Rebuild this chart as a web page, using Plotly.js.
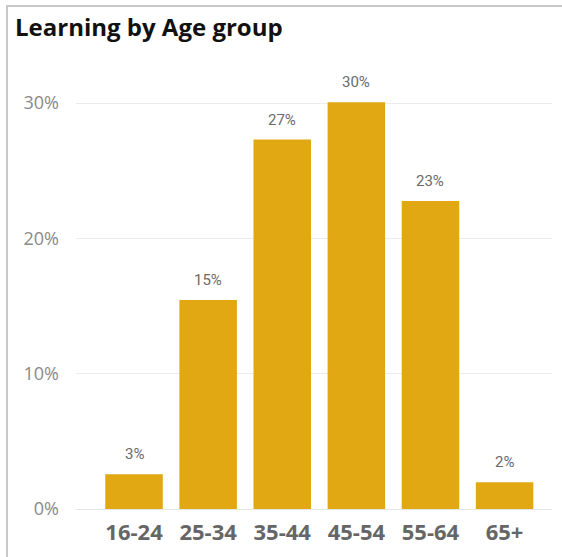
<!DOCTYPE html>
<html>
<head>
<meta charset="utf-8">
<script src="https://cdn.plot.ly/plotly-3.0.1.min.js"></script>
<style>
  html, body { margin: 0; padding: 0; background: #fff; }
  #wrap { position: relative; width: 562px; height: 557px; }
  #chart { position: absolute; left: 0; top: 0; width: 562px; height: 557px; }
  #frame { position: absolute; left: 6px; top: 5px; right: -2px; bottom: -2px;
           border-left: 2px solid #c8c8c8; border-top: 2px solid #c8c8c8; pointer-events: none; }
</style>
</head>
<body>
<div id="wrap">
  <div id="chart"></div>
  <div id="frame"></div>
</div>
<script>
const categories = ["16-24", "25-34", "35-44", "45-54", "55-64", "65+"];
const shares = [0.0256, 0.1545, 0.2730, 0.3005, 0.2276, 0.0197];
const yTicks = [0, 0.1, 0.2, 0.3];
const yTickLabels = ["0%", "10%", "20%", "30%"];

const barColor = "#E1A814";

const trace = {
  type: "bar",
  x: categories,
  y: shares,
  marker: { color: barColor },
  hoverinfo: "skip"
};

function pct(v) {
  return Math.round(v * 100) + "%";
}

const annotations = categories.map((c, i) => ({
  x: c,
  y: shares[i],
  xref: "x",
  yref: "y",
  text: pct(shares[i]),
  showarrow: false,
  yanchor: "middle",
  yshift: 20,
  font: { family: "Roboto, 'DejaVu Sans', sans-serif", size: 15, color: "#6a6a6a" }
}));

const layout = {
  width: 562,
  height: 557,
  paper_bgcolor: "#ffffff",
  plot_bgcolor: "#ffffff",
  margin: { l: 76, r: 10, t: 70, b: 48 },
  showlegend: false,
  bargap: 0.224,
  title: {
    text: "<b>Learning by Age group</b>",
    xref: "container",
    yref: "container",
    x: 15 / 562,
    xanchor: "left",
    y: 1 - 28 / 557,
    yanchor: "middle",
    font: { family: "'Open Sans', 'Noto Sans', sans-serif", size: 24, color: "#111111" }
  },
  xaxis: {
    type: "category",
    categoryorder: "array",
    categoryarray: categories,
    range: [-0.783, 5.64],
    showgrid: false,
    zeroline: false,
    showline: true,
    linecolor: "#e6e6e6",
    linewidth: 1,
    ticks: "",
    ticklabelstandoff: 4,
    tickfont: { family: "'Open Sans', 'Noto Sans', sans-serif", size: 22, color: "#666666", weight: "bold" },
    fixedrange: true
  },
  yaxis: {
    range: [0, 0.3 * (509 - 70) / (509 - 103)],
    tickmode: "array",
    tickvals: yTicks,
    ticktext: yTickLabels,
    showgrid: true,
    gridcolor: "#ebebeb",
    gridwidth: 1,
    zeroline: false,
    showline: false,
    ticks: "",
    ticklabelstandoff: 16,
    tickfont: { family: "'Open Sans', 'Noto Sans', sans-serif", size: 18, color: "#8a8a8a" },
    fixedrange: true
  },
  annotations: annotations
};

Plotly.newPlot("chart", [trace], layout, { displayModeBar: false, staticPlot: true });
</script>
</body>
</html>
